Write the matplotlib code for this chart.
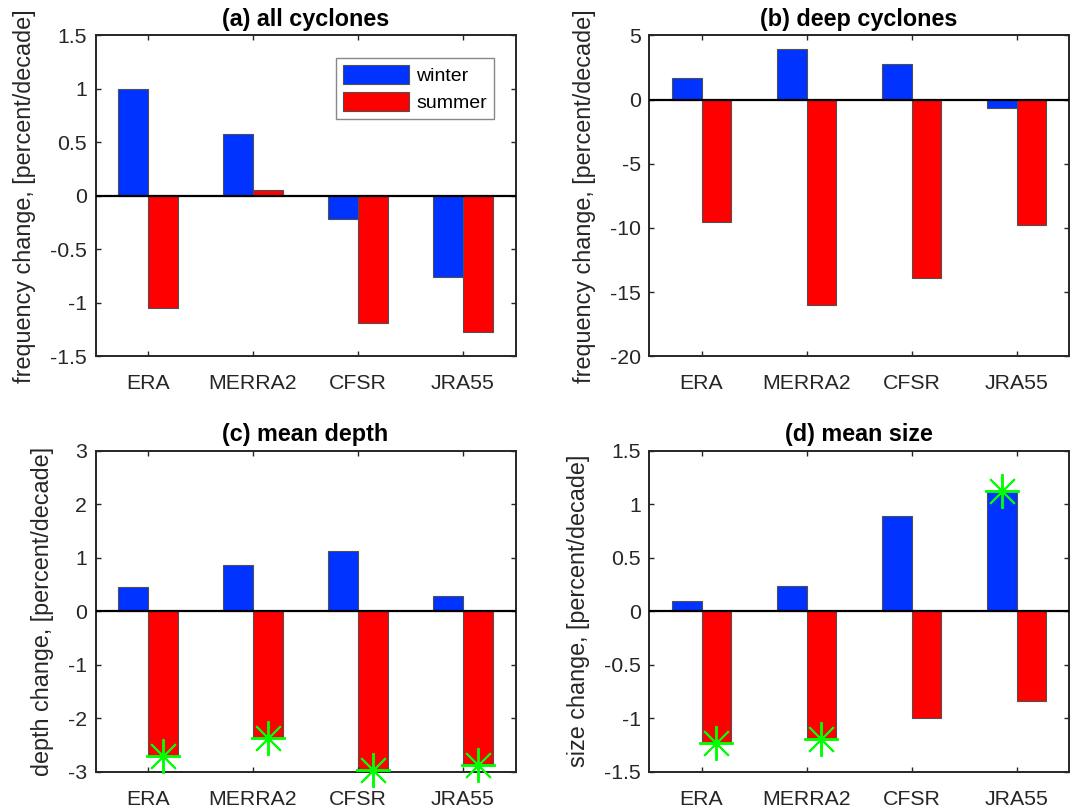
import numpy as np
import matplotlib.pyplot as plt
from matplotlib.ticker import FuncFormatter

plt.rcParams['font.family'] = ['Liberation Sans', 'DejaVu Sans']
plt.rcParams['axes.unicode_minus'] = False

categories = ['ERA', 'MERRA2', 'CFSR', 'JRA55']

# (a) all cyclones
all_winter = [1.00, 0.58, -0.22, -0.76]
all_summer = [-1.05, 0.05, -1.19, -1.27]
# (b) deep cyclones
deep_winter = [1.7, 3.9, 2.75, -0.7]
deep_summer = [-9.55, -16.0, -13.9, -9.8]
# (c) mean depth
depth_winter = [0.45, 0.86, 1.12, 0.28]
depth_summer = [-2.71, -2.37, -2.97, -2.88]
# (d) mean size
size_winter = [0.10, 0.24, 0.89, 1.12]
size_summer = [-1.23, -1.19, -1.00, -0.84]

# significance markers (1 = significant)
depth_winter_sig = [0, 0, 0, 0]
depth_summer_sig = [1, 1, 1, 1]
size_winter_sig = [0, 0, 0, 1]
size_summer_sig = [1, 1, 0, 0]

titles = ['(a) all cyclones', '(b) deep cyclones', '(c) mean depth', '(d) mean size']
ylabels = ['frequency change, [percent/decade]', 'frequency change, [percent/decade]',
           'depth change, [percent/decade]', 'size change, [percent/decade]']
ylims = [(-1.5, 1.5), (-20, 5), (-3, 3), (-1.5, 1.5)]
yticks = [np.arange(-1.5, 1.51, 0.5), np.arange(-20, 5.1, 5),
          np.arange(-3, 3.1, 1), np.arange(-1.5, 1.51, 0.5)]

winter_c = '#0033ff'
summer_c = '#ff0000'
dark = '#262626'
w = 0.285

fig = plt.figure(figsize=(10.76, 8.09), dpi=100)
W, H = 1076, 809
boxes = [(95.5, 35.3), (649, 35.3), (95.5, 450.7), (649, 450.7)]
aw, ah = 420, 321

data = [(all_winter, all_summer, None, None),
        (deep_winter, deep_summer, None, None),
        (depth_winter, depth_summer, depth_winter_sig, depth_summer_sig),
        (size_winter, size_summer, size_winter_sig, size_summer_sig)]

x = np.arange(1, len(categories) + 1)
for k, (l, t) in enumerate(boxes):
    ax = fig.add_axes([l / W, 1 - (t + ah) / H, aw / W, ah / H])
    win, sum_, wsig, ssig = data[k]
    ax.bar(x - w / 2, win, w, color=winter_c, edgecolor='#505050', linewidth=0.8, label='winter')
    ax.bar(x + w / 2, sum_, w, color=summer_c, edgecolor='#505050', linewidth=0.8, label='summer')
    ax.axhline(0, color='black', linewidth=1.6, zorder=3)
    if wsig is not None:
        for i in range(len(categories)):
            if wsig[i]:
                ax.plot(x[i] - w / 2, win[i], marker=(8, 2, 0), markersize=25,
                        markeredgewidth=1.4, color='#00ff00', linestyle='none',
                        zorder=4, clip_on=False)
            if ssig[i]:
                ax.plot(x[i] + w / 2, sum_[i], marker=(8, 2, 0), markersize=25,
                        markeredgewidth=1.4, color='#00ff00', linestyle='none',
                        zorder=4, clip_on=False)
    ax.set_xlim(0.5, 4.5)
    ax.set_ylim(*ylims[k])
    ax.set_yticks(yticks[k])
    ax.yaxis.set_major_formatter(FuncFormatter(lambda v, p: '%g' % v))
    ax.set_xticks(x)
    ax.set_xticklabels(categories)
    ax.tick_params(direction='in', length=3.4, width=1.0, colors=dark, labelsize=15.3,
                   top=True, right=True)
    ax.tick_params(axis='x', pad=13)
    ax.tick_params(axis='y', pad=6)
    for s in ax.spines.values():
        s.set_color(dark)
        s.set_linewidth(1.4)
    ax.set_title(titles[k], fontsize=16.8, fontweight='bold', pad=7)
    ax.set_ylabel(ylabels[k], fontsize=16.8, color=dark, labelpad=10)
    if k == 0:
        leg = ax.legend(loc='upper right', fontsize=14, handlelength=3.4, handleheight=1.1,
                        fancybox=False, framealpha=1, edgecolor='#888888',
                        bbox_to_anchor=(0.949, 0.928), borderaxespad=0, borderpad=0.35,
                        labelspacing=0.36, handletextpad=0.4)
        leg.get_frame().set_linewidth(1.0)

plt.savefig('out.png', dpi=100)
